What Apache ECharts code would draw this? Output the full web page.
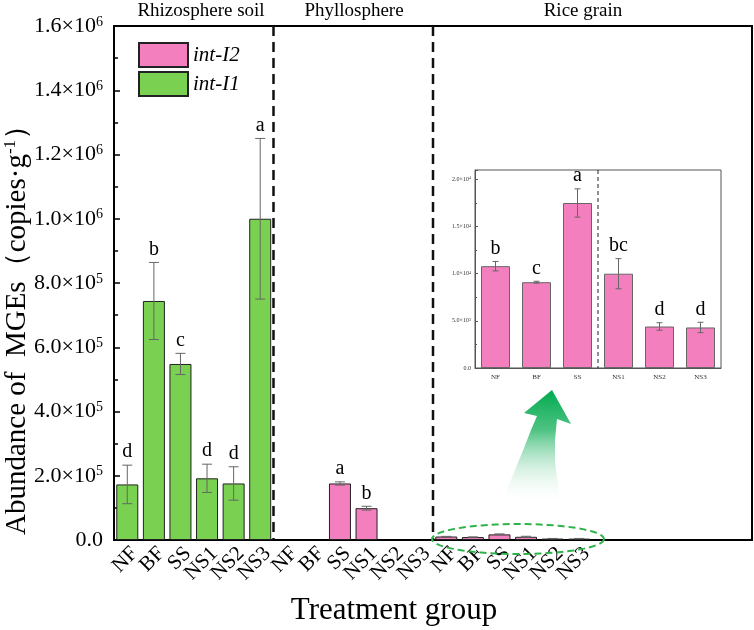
<!DOCTYPE html>
<html>
<head>
    <meta charset="UTF-8">
    <title>MGEs abundance</title>
    <script src="https://cdn.jsdelivr.net/npm/echarts@6/dist/echarts.min.js"></script>
    <style>
        body { margin: 0; background: #fff; }
    </style>
</head>
<body>
    <div id="chart" style="width:754px; height:630px;"></div>
    <script>
        // data
        var treatments = ['NF', 'BF', 'SS', 'NS1', 'NS2', 'NS3'];
        var sections = ['Rhizosphere soil', 'Phyllosphere', 'Rice grain'];

        var rhizoI1 = [173000, 744000, 548000, 192000, 176000, 1000000];
        var rhizoI1Err = [60000, 120000, 33000, 44000, 52000, 250000];
        var rhizoLetters = ['d', 'b', 'c', 'd', 'd', 'a'];

        var phylloI2 = [null, null, 176000, 99000, null, null];
        var phylloI2Err = [null, null, 5000, 6000, null, null];
        var phylloLetters = ['', '', 'a', 'b', '', ''];

        var grainI2 = [10800, 9100, 17500, 10000, 4400, 4300];
        var grainI2Err = [500, 100, 1500, 1600, 400, 550];
        var grainLetters = ['b', 'c', 'a', 'bc', 'd', 'd'];

        var FONT = '"Liberation Serif", "Times New Roman", serif';
        var PINK = '#f47fbf';
        var GREEN = '#7ad151';

        // 24 slots on the x axis, the last 6 are empty
        var cats = treatments.concat(treatments, treatments, ['', '', '', '', '', '']);
        var blank6 = [null, null, null, null, null, null];
        var i1Data = rhizoI1.concat(blank6, blank6, blank6);
        var i2Data = blank6.concat(phylloI2, grainI2, blank6);

        var errMain = [];
        var lettersMain = [];
        rhizoI1.forEach(function (v, i) { errMain.push([i, v, rhizoI1Err[i]]); lettersMain.push(rhizoLetters[i]); });
        phylloI2.forEach(function (v, i) { if (v != null) { errMain.push([6 + i, v, phylloI2Err[i]]); lettersMain.push(phylloLetters[i]); } });
        grainI2.forEach(function (v, i) { errMain.push([12 + i, v, grainI2Err[i]]); lettersMain.push(''); });

        var errInset = grainI2.map(function (v, i) { return [i, v, grainI2Err[i]]; });

        function sci(v, step) {
            if (v === 0) return '{b|0.0}';
            if (step && v % step) return '';
            var e = Math.floor(Math.log10(v) + 1e-9);
            var m = (v / Math.pow(10, e)).toFixed(1);
            return '{b|' + m + '×10}{s|' + e + '}';
        }

        function errorRenderer(letters, cap, letterSize) {
            return function (params, api) {
                var idx = api.value(0), v = api.value(1), e = api.value(2);
                var top = api.coord([idx, v + e]);
                var bot = api.coord([idx, v - e]);
                var x = top[0];
                var children = [
                    { type: 'line', shape: { x1: x, y1: top[1], x2: x, y2: bot[1] }, style: { stroke: '#666', lineWidth: 1 } },
                    { type: 'line', shape: { x1: x - cap, y1: top[1], x2: x + cap, y2: top[1] }, style: { stroke: '#666', lineWidth: 1 } },
                    { type: 'line', shape: { x1: x - cap, y1: bot[1], x2: x + cap, y2: bot[1] }, style: { stroke: '#666', lineWidth: 1 } }
                ];
                var t = letters[params.dataIndex];
                if (t) {
                    children.push({
                        type: 'text', x: x, y: top[1] - 3,
                        style: { text: t, font: letterSize + 'px ' + FONT, fill: '#000', align: 'center', verticalAlign: 'bottom' }
                    });
                }
                return { type: 'group', children: children };
            };
        }

        function dividerRenderer(dash, width, color) {
            return function (params, api) {
                var c = api.coord([api.value(0), 0]);
                var bw = api.size([1, 0])[0];
                var cs = params.coordSys;
                var x = c[0] + bw / 2;
                return {
                    type: 'line',
                    shape: { x1: x, y1: cs.y, x2: x, y2: cs.y + cs.height },
                    style: { stroke: color, lineWidth: width, lineDash: dash }
                };
            };
        }

        // dashed ellipse outline around the rice grain bars
        var ellipsePts = [];
        for (var k = 0; k <= 72; k++) {
            var a = k / 72 * Math.PI * 2;
            ellipsePts.push([518 + 86 * Math.cos(a), 539 + 15 * Math.sin(a)]);
        }

        var chart = echarts.init(document.getElementById('chart'), null, { renderer: 'canvas' });

        var option = {
            animation: false,
            backgroundColor: '#fff',
            legend: {
                data: ['int-I2', 'int-I1'],
                orient: 'vertical',
                left: 133,
                top: 37,
                icon: 'rect',
                itemWidth: 49,
                itemHeight: 24,
                itemGap: 3,
                textStyle: { fontFamily: FONT, fontStyle: 'italic', fontSize: 21, color: '#000' }
            },
            grid: [
                { left: 114, right: 2, top: 26, bottom: 90, show: true, borderColor: '#000', borderWidth: 2 },
                { left: 475, top: 170, width: 246, height: 198, show: true, borderColor: '#555', borderWidth: 1, backgroundColor: '#fff', z: 5 }
            ],
            xAxis: [
                {
                    type: 'category', gridIndex: 0, data: cats,
                    axisLine: { lineStyle: { color: '#000', width: 2 } },
                    axisTick: { show: false },
                    axisLabel: { rotate: 45, interval: 0, fontFamily: FONT, fontSize: 21, color: '#000', margin: 3, verticalAlign: 'top' }
                },
                {
                    type: 'category', gridIndex: 1, data: treatments,
                    axisLine: { lineStyle: { color: '#555', width: 1 } },
                    axisTick: { show: false },
                    axisLabel: { interval: 0, fontFamily: FONT, fontSize: 7, color: '#333', margin: 6 },
                    z: 6
                }
            ],
            yAxis: [
                {
                    type: 'value', gridIndex: 0, min: 0, max: 1600000, interval: 200000,
                    splitLine: { show: false },
                    axisLine: { show: true, lineStyle: { color: '#000', width: 2 } },
                    axisTick: { show: true, inside: true, length: 6, lineStyle: { color: '#000', width: 1.5 } },
                    minorTick: { show: true, splitNumber: 2, length: 4, lineStyle: { color: '#000', width: 1.5 } },
                    axisLabel: {
                        margin: 11,
                        formatter: function (v) { return sci(v); },
                        rich: {
                            b: { fontFamily: FONT, fontSize: 22, color: '#000' },
                            s: { fontFamily: FONT, fontSize: 14, color: '#000', verticalAlign: 'top' }
                        }
                    }
                },
                {
                    type: 'value', gridIndex: 1, min: 0, max: 21000, interval: 5000,
                    splitLine: { show: false },
                    axisLine: { show: true, lineStyle: { color: '#555', width: 1 } },
                    axisTick: { show: true, inside: true, length: 3, lineStyle: { color: '#555' } },
                    minorTick: { show: true, splitNumber: 2, length: 2, lineStyle: { color: '#555' } },
                    axisLabel: {
                        margin: 4,
                        showMaxLabel: false,
                        formatter: function (v) { return sci(v, 5000); },
                        rich: {
                            b: { fontFamily: FONT, fontSize: 6, color: '#333' },
                            s: { fontFamily: FONT, fontSize: 4, color: '#333', verticalAlign: 'top' }
                        }
                    },
                    z: 6
                }
            ],
            series: [
                {
                    name: 'dividers', type: 'custom', xAxisIndex: 0, yAxisIndex: 0,
                    data: [[5], [11]], silent: true, z: 1,
                    renderItem: dividerRenderer([10, 6], 2.5, '#111')
                },
                {
                    name: 'int-I2', type: 'bar', xAxisIndex: 0, yAxisIndex: 0,
                    data: i2Data, barWidth: 22, barGap: '-100%',
                    itemStyle: { color: PINK, borderColor: '#222', borderWidth: 1 }
                },
                {
                    name: 'int-I1', type: 'bar', xAxisIndex: 0, yAxisIndex: 0,
                    data: i1Data, barWidth: 22, barGap: '-100%',
                    itemStyle: { color: GREEN, borderColor: '#222', borderWidth: 1 }
                },
                {
                    name: 'err', type: 'custom', xAxisIndex: 0, yAxisIndex: 0,
                    data: errMain, z: 3,
                    renderItem: errorRenderer(lettersMain, 5, 20)
                },
                {
                    name: 'inset-divider', type: 'custom', xAxisIndex: 1, yAxisIndex: 1,
                    data: [[2]], silent: true, z: 6,
                    renderItem: dividerRenderer([4, 3], 1, '#222')
                },
                {
                    name: 'grain int-I2', type: 'bar', xAxisIndex: 1, yAxisIndex: 1,
                    data: grainI2, barWidth: 29, z: 6,
                    itemStyle: { color: PINK, borderColor: '#666', borderWidth: 1 }
                },
                {
                    name: 'inset-err', type: 'custom', xAxisIndex: 1, yAxisIndex: 1,
                    data: errInset, z: 7,
                    renderItem: errorRenderer(grainLetters, 3, 20)
                }
            ],
            graphic: [
                { type: 'text', x: 201, y: 11, style: { text: sections[0], font: '19px ' + FONT, fill: '#000', align: 'center', verticalAlign: 'middle' } },
                { type: 'text', x: 354, y: 11, style: { text: sections[1], font: '19px ' + FONT, fill: '#000', align: 'center', verticalAlign: 'middle' } },
                { type: 'text', x: 583, y: 11, style: { text: sections[2], font: '19px ' + FONT, fill: '#000', align: 'center', verticalAlign: 'middle' } },
                { type: 'text', x: 394, y: 611, style: { text: 'Treatment group', font: '31px ' + FONT, fill: '#000', align: 'center', verticalAlign: 'middle' } },
                {
                    type: 'text', x: 17, y: 323, rotation: Math.PI / 2,
                    style: {
                        text: '{a|Abundance of  MGEs（copies·g}{s|-1}{a|）}',
                        align: 'center', verticalAlign: 'middle',
                        rich: {
                            a: { fontFamily: FONT, fontSize: 29, fill: '#000', color: '#000' },
                            s: { fontFamily: FONT, fontSize: 17, fill: '#000', color: '#000', verticalAlign: 'top' }
                        }
                    }
                },
                {
                    type: 'polygon', z: 10,
                    shape: {
                        points: [[552, 390], [571, 424], [557, 419], [555, 440], [555, 462], [558, 485], [562, 505],
                                 [505, 495], [515, 470], [524, 448], [531, 430], [537, 416], [524, 413]]
                    },
                    style: {
                        fill: new echarts.graphic.LinearGradient(0, 0, 0, 1, [
                            { offset: 0, color: 'rgba(0,170,80,1)' },
                            { offset: 0.35, color: 'rgba(20,175,90,0.75)' },
                            { offset: 1, color: 'rgba(255,255,255,0)' }
                        ])
                    }
                },
                {
                    type: 'polyline', z: 10,
                    shape: { points: ellipsePts },
                    style: { fill: null, stroke: '#2db34a', lineWidth: 2, lineDash: [7, 4] }
                }
            ]
        };

        chart.setOption(option);
    </script>
</body>
</html>
